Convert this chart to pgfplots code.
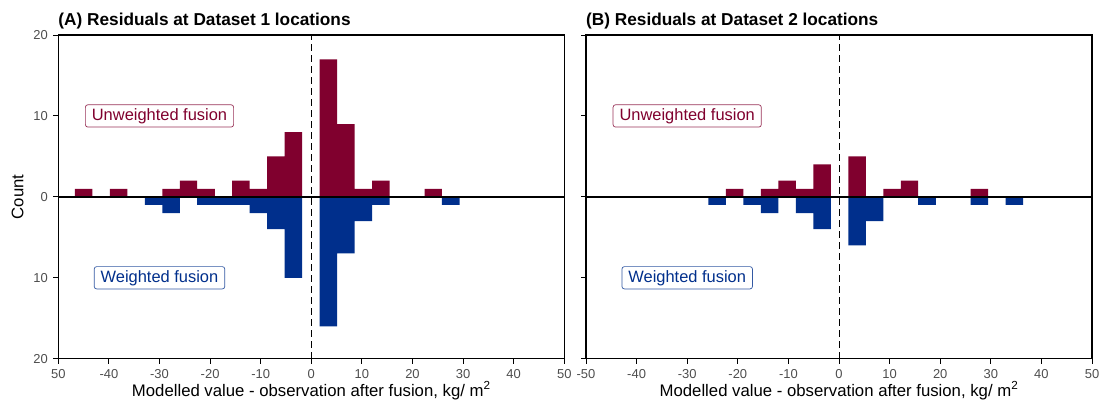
\documentclass[border=0pt]{standalone}
\usepackage{fontspec}
\setmainfont{Liberation Sans}
\usepackage{pgfplots}
\usepackage{pgfplotstable}
\pgfplotsset{compat=1.18}

\definecolor{unw}{RGB}{128,0,46}
\definecolor{wei}{RGB}{0,47,140}
\definecolor{tickgray}{RGB}{77,77,77}

% Histogram bins: left edge, unweighted count, weighted count (last row closes the final bin)
\pgfplotstableread{
edge    u  w
-46.72  1  0
-43.27  0  0
-39.81  1  0
-36.36  0  0
-32.90  0  1
-29.45  1  2
-25.99  2  0
-22.54  1  1
-19.08  0  1
-15.63  2  1
-12.17  1  2
-8.72   5  4
-5.26   8  10
-1.81   0  0
1.65    17 16
5.10    9  7
8.56    1  3
12.01   2  1
15.47   0  0
18.92   0  0
22.38   1  0
25.83   0  1
29.29   0  0
}\resA

\pgfplotstableread{
edge    u  w
-25.80  0  1
-22.35  1  0
-18.89  0  1
-15.44  1  2
-11.98  2  0
-8.53   1  2
-5.07   4  4
-1.62   0  0
1.84    5  6
5.30    0  3
8.75    1  0
12.21   2  0
15.66   0  1
19.12   0  0
22.57   0  0
26.03   1  1
29.48   0  0
32.94   0  1
36.39   0  0
}\resB

\pgfplotsset{
  resid/.style={
    scale only axis, width=506bp, height=323.7bp,
    anchor=south west,
    xmin=-50, xmax=50, ymin=-20, ymax=20,
    xtick={-50,-40,...,50},
    ytick={-20,-10,0,10,20},
    xtick pos=bottom, ytick pos=left,
    tick align=outside,
    major tick length=5bp,
    axis line style={line width=1.2bp, black},
    tick style={line width=0.9bp, black},
    ticklabel style={font=\fontsize{13}{15}\selectfont, text=tickgray},
    xticklabel style={yshift=-2.5bp},
    yticklabel style={xshift=-2bp},
    title style={at={(axis description cs:0,1)}, anchor=base west,
      yshift=4bp, inner sep=0pt, font=\fontsize{17.3}{20}\selectfont\bfseries},
    xlabel style={at={(axis description cs:0.5,-0.1158)}, anchor=base,
      inner sep=0pt, font=\fontsize{16.8}{20}\selectfont},
    ylabel style={at={(axis description cs:-0.0806,0.5)}, anchor=center,
      inner sep=0pt, font=\fontsize{16.8}{20}\selectfont},
    xlabel={Modelled value - observation after fusion, kg/ m\textsuperscript{2}},
  },
}
\tikzset{
  lab/.style={rounded corners=2.5bp, fill=white, line width=0.7bp,
    inner xsep=6.5bp, inner ysep=3.5bp, font=\fontsize{16.5}{19}\selectfont},
  ubar/.style={ybar interval, fill=unw, draw=none},
  wbar/.style={ybar interval, fill=wei, draw=none},
}

\begin{document}
\begin{tikzpicture}
\path[use as bounding box] (0,0) rectangle (1109bp,407bp);

\begin{axis}[resid, at={(58.3bp,48.3bp)},
  title={(A) Residuals at Dataset 1 locations},
  ylabel={Count},
  xticklabels={50,-40,-30,-20,-10,0,10,20,30,40,50},
  yticklabels={20,10,0,10,20}]
  \addplot[black, line width=0.8bp, dash pattern=on 6.5bp off 4.5bp] coordinates {(0,-20) (0,20)};
  \addplot[ubar] table[x=edge, y=u] {\resA};
  \addplot[wbar] table[x=edge, y expr=-\thisrow{w}] {\resA};
  \addplot[black, line width=1.3bp] coordinates {(-50,0) (50,0)};
  \node[lab, text=unw, draw=unw!80!white] at (axis cs:-30,10) {Unweighted fusion};
  \node[lab, text=wei, draw=wei!80!white] at (axis cs:-30,-10) {Weighted fusion};
\end{axis}

\begin{axis}[resid, at={(586bp,48.3bp)},
  title={(B) Residuals at Dataset 2 locations},
  xticklabels={-50,-40,-30,-20,-10,0,10,20,30,40,50},
  yticklabels={,,,,}]
  \addplot[black, line width=0.8bp, dash pattern=on 6.5bp off 4.5bp] coordinates {(0,-20) (0,20)};
  \addplot[ubar] table[x=edge, y=u] {\resB};
  \addplot[wbar] table[x=edge, y expr=-\thisrow{w}] {\resB};
  \addplot[black, line width=1.3bp] coordinates {(-50,0) (50,0)};
  \node[lab, text=unw, draw=unw!80!white] at (axis cs:-30,10) {Unweighted fusion};
  \node[lab, text=wei, draw=wei!80!white] at (axis cs:-30,-10) {Weighted fusion};
\end{axis}
\end{tikzpicture}
\end{document}
